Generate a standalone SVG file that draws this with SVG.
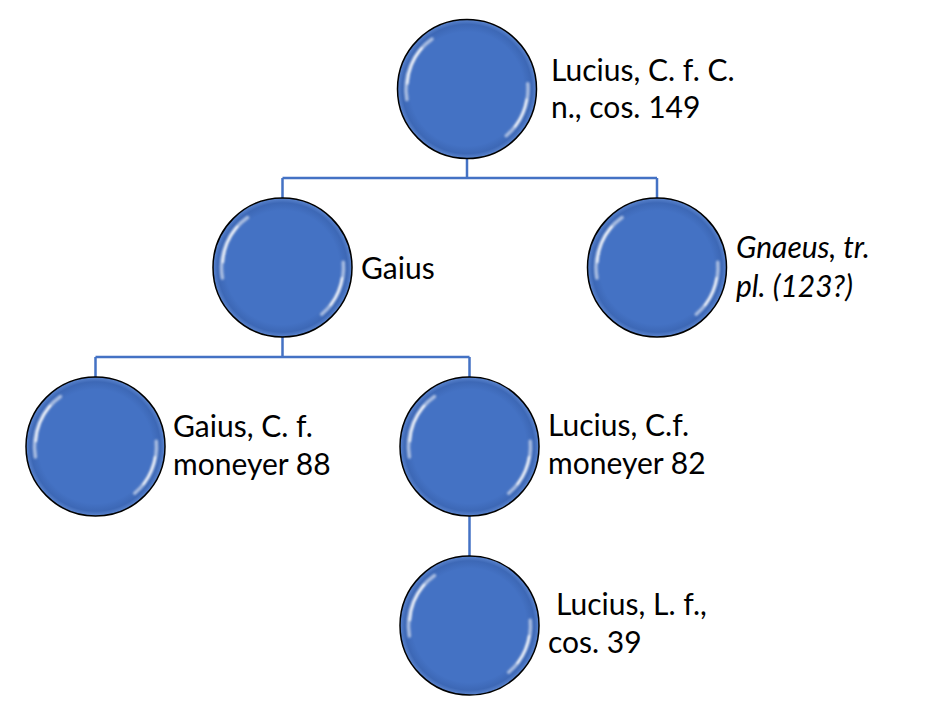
<svg xmlns="http://www.w3.org/2000/svg" width="927" height="718" viewBox="0 0 927 718">
<style>
  .lbl { font-family: Lato, "Liberation Sans", sans-serif; font-size: 30px; fill: #000; }
  .it { font-style: italic; }
  .conn { fill: none; stroke: #4472C4; stroke-width: 2.5; }
  .hl { fill: none; stroke: #ffffff; stroke-linecap: round; }
</style>
<defs>
  <radialGradient id="rg" cx="0.5" cy="0.5" r="0.5">
    <stop offset="0" stop-color="#4472C4"/>
    <stop offset="0.82" stop-color="#4472C4"/>
    <stop offset="0.93" stop-color="#3d68b6"/>
    <stop offset="1" stop-color="#5b85cf"/>
  </radialGradient>
  <filter id="soft" x="-20%" y="-20%" width="140%" height="140%">
    <feGaussianBlur stdDeviation="1.2"/>
  </filter>
  <g id="bubble">
    <circle r="69.5" fill="url(#rg)" stroke="#000" stroke-width="1.5"/>
    <g filter="url(#soft)">
      <path class="hl" stroke-width="3.5" opacity="0.55" d="M -60.07 10.59 A 61 61 0 0 1 -34.99 -49.97"/>
      <path class="hl" stroke-width="2.2" opacity="0.95" d="M -59.5 -5.3 A 61 61 0 0 1 -45.3 -40.8"/>
      <path class="hl" stroke-width="3.5" opacity="0.55" d="M 60.77 -5.32 A 61 61 0 0 1 39.21 46.73"/>
      <path class="hl" stroke-width="2.2" opacity="0.95" d="M 59.5 10.6 A 61 61 0 0 1 47.9 37.7"/>
    </g>
  </g>
</defs>
<rect width="927" height="718" fill="#ffffff"/>
<g id="connectors">
  <path class="conn" d="M467 158 V178 M282.5 178 H657 M282.5 178 V198 M657 178 V198"/>
  <path class="conn" d="M282.5 337 V357 M95.5 357 H469.5 M95.5 357 V377 M469.5 357 V377"/>
  <path class="conn" d="M469.5 516 V556"/>
</g>
<g id="node-lucius-cos149">
  <use href="#bubble" x="467" y="89"/>
  <text class="lbl" x="551" y="81">Lucius, C. f. C.</text>
  <text class="lbl" x="551" y="118">n., cos. 149</text>
</g>
<g id="node-gaius">
  <use href="#bubble" x="282.5" y="267.5"/>
  <text class="lbl" x="361" y="279">Gaius</text>
</g>
<g id="node-gnaeus">
  <use href="#bubble" x="657" y="267.5"/>
  <text class="lbl it" x="736" y="258">Gnaeus, tr.</text>
  <text class="lbl it" x="736" y="297">pl. (123?)</text>
</g>
<g id="node-gaius-moneyer88">
  <use href="#bubble" x="95.5" y="446.5"/>
  <text class="lbl" x="173" y="437">Gaius, C. f.</text>
  <text class="lbl" x="173" y="475">moneyer 88</text>
</g>
<g id="node-lucius-moneyer82">
  <use href="#bubble" x="469.5" y="446.5"/>
  <text class="lbl" x="548" y="436">Lucius, C.f.</text>
  <text class="lbl" x="548" y="474">moneyer 82</text>
</g>
<g id="node-lucius-cos39">
  <use href="#bubble" x="469.5" y="625.5"/>
  <text class="lbl" x="556" y="615">Lucius, L. f.,</text>
  <text class="lbl" x="548" y="653">cos. 39</text>
</g>
</svg>
